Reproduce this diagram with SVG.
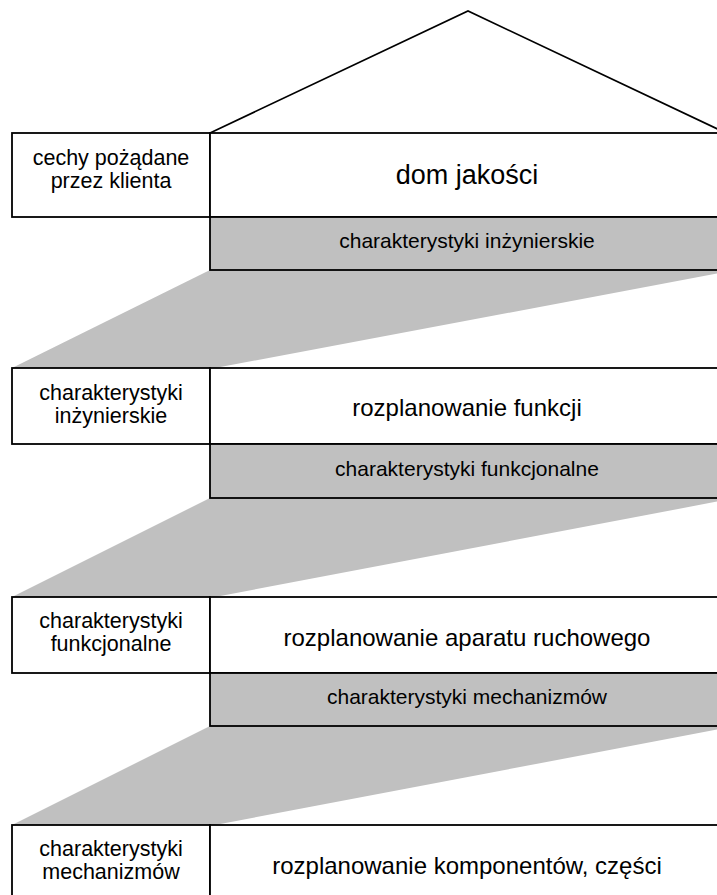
<svg xmlns="http://www.w3.org/2000/svg" width="717" height="895" viewBox="0 0 717 895">
  <style>
    .box { fill: #ffffff; stroke: #000000; stroke-width: 1.8; }
    .band { fill: #c0c0c0; stroke: #000000; stroke-width: 1.8; }
    .funnel { fill: #c0c0c0; stroke: none; }
    .roof { fill: none; stroke: #000000; stroke-width: 1.6; stroke-linejoin: miter; }
    text { font-family: "Liberation Sans", Arial, sans-serif; fill: #000000; text-anchor: middle; }
    .side { font-size: 21.5px; }
    .main { font-size: 24px; }
    .title { font-size: 27px; }
    .sub { font-size: 21px; }
  </style>

  <rect width="717" height="895" fill="#ffffff"/>

  <!-- funnels leading each output band into the next matrix -->
  <g id="connectors">
    <polygon class="funnel" points="210,270 736,270 215,368 12,368"/>
    <polygon class="funnel" points="210,498 736,498 215,597 12,597"/>
    <polygon class="funnel" points="210,726 736,726 215,825 12,825"/>
  </g>

  <!-- roof -->
  <g id="roof">
    <polyline class="roof" points="210,133 468,11 726,133"/>
  </g>

  <!-- stage 1: house of quality -->
  <g id="stage1-input">
    <rect class="box" x="12" y="133" width="198" height="84"/>
    <text class="side" x="111" y="165">cechy pożądane</text>
    <text class="side" x="111" y="188">przez klienta</text>
  </g>
  <g id="stage1-matrix">
    <rect class="box" x="210" y="133" width="520" height="84"/>
    <text class="title" x="467" y="184">dom jakości</text>
  </g>
  <g id="stage1-output">
    <rect class="band" x="210" y="217" width="520" height="53"/>
    <text class="sub" x="467" y="248">charakterystyki inżynierskie</text>
  </g>

  <!-- stage 2: function deployment -->
  <g id="stage2-input">
    <rect class="box" x="12" y="368" width="198" height="76"/>
    <text class="side" x="111" y="400">charakterystyki</text>
    <text class="side" x="111" y="423">inżynierskie</text>
  </g>
  <g id="stage2-matrix">
    <rect class="box" x="210" y="368" width="520" height="76"/>
    <text class="main" x="467" y="416">rozplanowanie funkcji</text>
  </g>
  <g id="stage2-output">
    <rect class="band" x="210" y="444" width="520" height="54"/>
    <text class="sub" x="467" y="476">charakterystyki funkcjonalne</text>
  </g>

  <!-- stage 3: mechanism deployment -->
  <g id="stage3-input">
    <rect class="box" x="12" y="597" width="198" height="76"/>
    <text class="side" x="111" y="628">charakterystyki</text>
    <text class="side" x="111" y="651">funkcjonalne</text>
  </g>
  <g id="stage3-matrix">
    <rect class="box" x="210" y="597" width="520" height="76"/>
    <text class="main" x="467" y="646">rozplanowanie aparatu ruchowego</text>
  </g>
  <g id="stage3-output">
    <rect class="band" x="210" y="673" width="520" height="53"/>
    <text class="sub" x="467" y="704">charakterystyki mechanizmów</text>
  </g>

  <!-- stage 4: component deployment -->
  <g id="stage4-input">
    <rect class="box" x="12" y="825" width="198" height="80"/>
    <text class="side" x="111" y="856">charakterystyki</text>
    <text class="side" x="111" y="879">mechanizmów</text>
  </g>
  <g id="stage4-matrix">
    <rect class="box" x="210" y="825" width="520" height="80"/>
    <text class="main" x="467" y="874">rozplanowanie komponentów, części</text>
  </g>
</svg>
